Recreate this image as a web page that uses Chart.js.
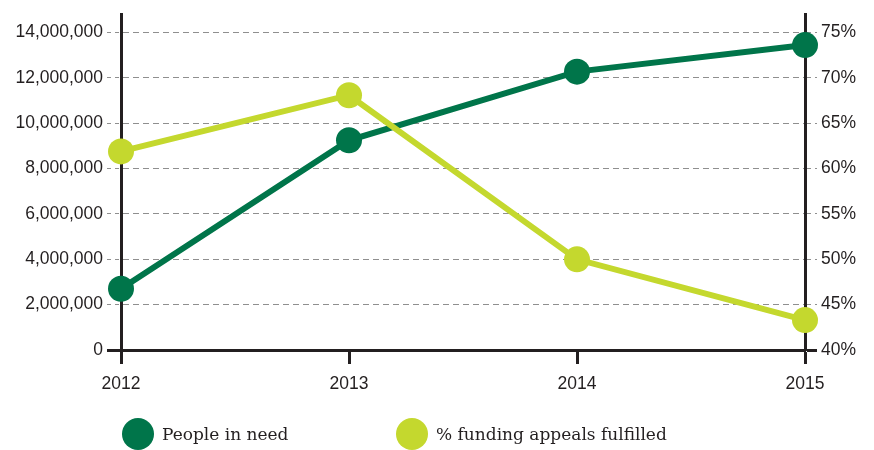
<!DOCTYPE html>
<html>
<head>
<meta charset="utf-8">
<script src="https://cdn.jsdelivr.net/npm/chart.js@4.4.1/dist/chart.umd.min.js"></script>
<style>
  body { margin: 0; background: #fff; }
  #wrap { position: relative; width: 874px; height: 450px; }
  .legend { position: absolute; top: 418px; font-family: "DejaVu Serif", serif; font-size: 17px; color: #231f20; }
  .legend span.dot { position: absolute; width: 32px; height: 32px; border-radius: 50%; top: 0; }
  .legend span.txt { position: absolute; top: 6px; white-space: nowrap; }
</style>
</head>
<body>
<div id="wrap">
  <canvas id="chart" width="874" height="450"></canvas>
  <div class="legend" style="left:122px;">
    <span class="dot" style="left:0;background:#00754a;"></span>
    <span class="txt" style="left:40px;">People in need</span>
  </div>
  <div class="legend" style="left:396px;">
    <span class="dot" style="left:0;background:#c4d82e;"></span>
    <span class="txt" style="left:40px;">% funding appeals fulfilled</span>
  </div>
</div>
<script>
const years = ['2012', '2013', '2014', '2015'];
const peopleInNeed = [2700000, 9250000, 12280000, 13450000];
const fundingPct = [61.9, 68.1, 50.0, 43.3];
const peopleTicks = [0, 2000000, 4000000, 6000000, 8000000, 10000000, 12000000, 14000000];
const pctTicks = [40, 45, 50, 55, 60, 65, 70, 75];

const dark = '#231f20';
const gridGrey = '#8f8f8f';
const darkGreen = '#00754a';
const lightGreen = '#c4d82e';

const ctx = document.getElementById('chart').getContext('2d');

const config = {
    type: 'line',
    data: {
        labels: years,
        datasets: [{
            label: 'People in need',
            data: peopleInNeed,
            yAxisID: 'y',
            borderColor: darkGreen,
            backgroundColor: darkGreen,
            borderWidth: 6,
            pointRadius: 13,
            pointHoverRadius: 13,
            pointBorderWidth: 0,
            order: 2
        }, {
            label: '% funding appeals fulfilled',
            data: fundingPct,
            yAxisID: 'y1',
            borderColor: lightGreen,
            backgroundColor: lightGreen,
            borderWidth: 6,
            pointRadius: 13,
            pointHoverRadius: 13,
            pointBorderWidth: 0,
            order: 1
        }]
    },
    options: {
        responsive: false,
        animation: false,
        layout: { padding: 0 },
        plugins: {
            legend: { display: false },
            tooltip: { enabled: false }
        },
        scales: {
            x: {
                offset: false,
                grid: {
                    drawOnChartArea: false,
                    drawTicks: true,
                    tickLength: 14,
                    tickColor: dark,
                    tickWidth: 3
                },
                border: { display: true, color: dark, width: 3 },
                ticks: {
                    color: dark,
                    padding: 10,
                    font: { family: 'Liberation Sans', size: 17.5 }
                },
                afterFit: function (scale) { scale.height = 100; }
            },
            y: {
                position: 'left',
                min: 0,
                max: 14800000,
                afterBuildTicks: function (scale) {
                    scale.ticks = peopleTicks.map(v => ({ value: v }));
                },
                ticks: {
                    color: dark,
                    padding: 4,
                    font: { family: 'Liberation Sans', size: 17.5 },
                    callback: v => v.toLocaleString('en-US')
                },
                grid: {
                    color: gridGrey,
                    lineWidth: 1,
                    tickLength: 14,
                    tickBorderDash: c => c.tick && c.tick.value === 0 ? [] : [4, 4],
                    tickColor: c => c.tick && c.tick.value === 0 ? dark : gridGrey,
                    tickWidth: c => c.tick && c.tick.value === 0 ? 3 : 1
                },
                // dash applies to the grid lines
                border: { display: true, color: dark, width: 3, dash: [6, 4] },
                afterFit: function (scale) { scale.width = 121; }
            },
            y1: {
                position: 'right',
                min: 40,
                max: 77,
                afterBuildTicks: function (scale) {
                    scale.ticks = pctTicks.map(v => ({ value: v }));
                },
                ticks: {
                    color: dark,
                    padding: 4,
                    font: { family: 'Liberation Sans', size: 17.5 },
                    callback: v => v + '%'
                },
                grid: {
                    drawOnChartArea: false,
                    tickLength: 12,
                    tickBorderDash: c => c.tick && c.tick.value === 40 ? [] : [4, 4],
                    tickColor: c => c.tick && c.tick.value === 40 ? dark : gridGrey,
                    tickWidth: c => c.tick && c.tick.value === 40 ? 3 : 1
                },
                border: { display: true, color: dark, width: 3 },
                afterFit: function (scale) { scale.width = 69; }
            }
        }
    }
};

const chart = new Chart(ctx, config);
</script>
</body>
</html>
